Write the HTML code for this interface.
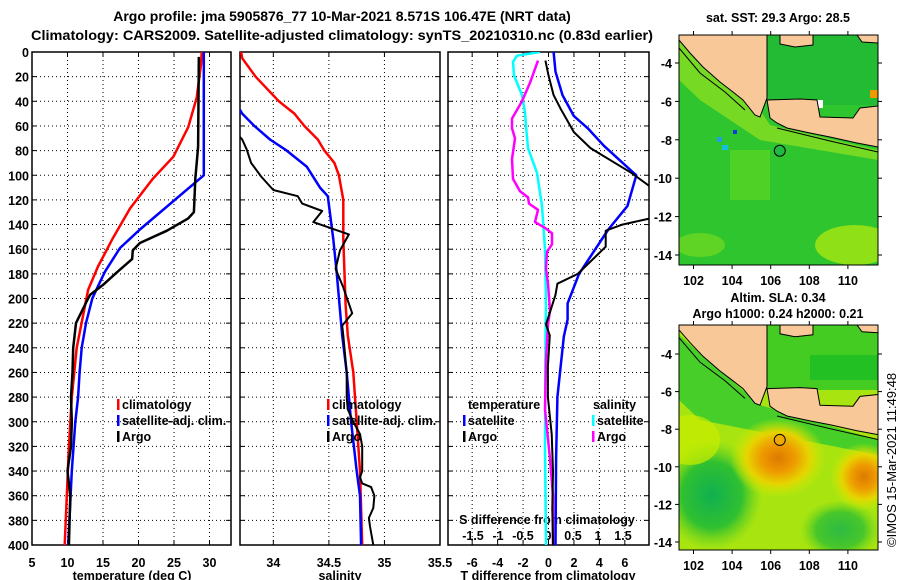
<!DOCTYPE html>
<html><head><meta charset="utf-8">
<style>
html,body{margin:0;padding:0;background:#fff;}
svg{display:block;font-family:"Liberation Sans",sans-serif;}
.b{font-weight:bold;font-size:12.5px;}
</style></head>
<body>
<svg id="c" width="900" height="580" viewBox="0 0 900 580" xmlns="http://www.w3.org/2000/svg">
<defs>
<radialGradient id="o1" cx="0.5" cy="0.5" r="0.5">
<stop offset="0" stop-color="#dd7a00"/><stop offset="0.35" stop-color="#ee9a00"/><stop offset="0.65" stop-color="#e6d400"/><stop offset="1" stop-color="#cdee00" stop-opacity="0"/>
</radialGradient>
<radialGradient id="g1" cx="0.5" cy="0.5" r="0.5">
<stop offset="0" stop-color="#10b050"/><stop offset="0.6" stop-color="#30c030"/><stop offset="1" stop-color="#60d020" stop-opacity="0"/>
</radialGradient>
<clipPath id="cp1"><rect x="32" y="52" width="199" height="493"/></clipPath>
<clipPath id="cp2"><rect x="240" y="52" width="200" height="493"/></clipPath>
<clipPath id="cp3"><rect x="448" y="52" width="201" height="493"/></clipPath>
<clipPath id="mc1"><rect x="679" y="35" width="199" height="230"/></clipPath>
<clipPath id="mc2"><rect x="679" y="325" width="199" height="225"/></clipPath>
</defs>
<text class="b" x="342" y="21" text-anchor="middle" font-size="14" style="font-size:14px">Argo profile: jma 5905876_77 10-Mar-2021 8.571S 106.47E (NRT data)</text>
<text class="b" x="342" y="40" text-anchor="middle" style="font-size:14px" textLength="622" lengthAdjust="spacingAndGlyphs">Climatology: CARS2009. Satellite-adjusted climatology: synTS_20210310.nc (0.83d earlier)</text>
<g id="plots"></g>
<g id="maps"></g>
<text x="896" y="547" transform="rotate(-90 896 547)" font-size="13">©IMOS 15-Mar-2021 11:49:48</text>
</svg>
<script>
// ===== Data =====
const depthTicks = [0,20,40,60,80,100,120,140,160,180,200,220,240,260,280,300,320,340,360,380,400];
const tTicks = [5,10,15,20,25,30];
const sTicks = [34,34.5,35,35.5];
const dtTicks = [-6,-4,-2,0,2,4,6];
const dsTicks = [-1.5,-1,-0.5,0,0.5,1,1.5];

// Temperature profiles: depth / value
const tClimDepth = [0,10,37,61,85,103,127,151,174,193,205,240,280,320,360,400];
const tClimVal   = [28.9,28.8,28.2,27.0,24.9,22.0,18.8,16.4,14.3,12.9,12.5,11.3,10.6,10.2,9.9,9.6];
const tSatDepth = [0,100,144,159,178,190,200,220,240,260,280,300,340,400];
const tSatVal   = [29.2,29.2,20.2,17.4,15.3,14.3,13.5,12.6,12.0,11.7,11.5,11.1,10.6,10.1];
const tArgoDepth = [4,8,77,103,130,135,145,155,161,168,178,189,197,200,220,240,260,280,300,320,340,360,380,400];
const tArgoVal   = [28.5,28.5,28.4,28.0,27.8,27.0,24.0,20.2,19.2,19.1,17.1,15.0,13.2,12.9,11.2,10.8,10.7,10.5,10.6,10.5,10.0,10.4,10.3,10.2];

// Salinity profiles
const sClimDepth = [0,5,20,40,50,60,71,80,90,100,120,152,205,230,260,300,340,400];
const sClimVal   = [33.71,33.72,33.84,34.05,34.19,34.28,34.4,34.46,34.55,34.59,34.63,34.63,34.65,34.67,34.72,34.75,34.78,34.8];
const sSatDepth = [47,50,60,71,80,93,110,117,152,179,230,260,300,340,360,400];
const sSatVal   = [33.7,33.72,33.83,33.97,34.12,34.3,34.42,34.49,34.54,34.57,34.62,34.66,34.7,34.75,34.78,34.79];
const sArgoDepth = [69,71,79,90,101,112,117,123,129,138,148,161,176,191,212,222,230,260,280,290,300,310,320,340,345,350,353,360,370,378,385,400];
const sArgoVal   = [33.7,33.72,33.76,33.8,33.89,34.0,34.22,34.26,34.44,34.36,34.68,34.6,34.56,34.63,34.71,34.62,34.63,34.66,34.66,34.67,34.72,34.78,34.8,34.8,34.78,34.8,34.88,34.91,34.9,34.86,34.87,34.9];

// Differences from climatology
const dtSatDepth = [0,16,35,52,62,76,100,125,144,180,204,217,231,280,330,400];
const dtSatVal   = [0.4,0.55,1.1,2.0,3.1,4.35,6.9,6.2,4.7,2.4,1.5,1.5,1.2,0.7,0.6,0.55];
const dtArgoDepth = [7,19,35,46,65,78,98,113,125,135,140,145,158,180,188,197,210,221,230,255,280,310,340,370,400];
const dtArgoVal   = [-0.24,0,0.4,0.95,2.0,3.3,6.5,8.5,9.5,8.0,5.8,4.5,4.5,2.3,0.7,0.55,0.15,-0.2,0.1,-0.05,-0.05,0.25,0.35,0.3,0.35];
const dsSatDepth = [0,3,8,19,35,49,60,78,98,125,160,205,230,320,400];
const dsSatVal   = [-0.16,-0.62,-0.7,-0.68,-0.52,-0.46,-0.44,-0.4,-0.22,-0.12,-0.06,-0.04,-0.05,-0.06,-0.04];
const dsArgoDepth = [7,25,40,54,62,70,87,103,113,118,123,128,138,143,147,156,162,176,188,210,221,250,290,330,360,400];
const dsArgoVal   = [-0.2,-0.36,-0.52,-0.72,-0.72,-0.66,-0.72,-0.7,-0.56,-0.4,-0.38,-0.2,-0.26,-0.05,0.08,0.08,-0.02,-0.04,0,0.04,0,-0.04,-0.06,0.04,0.1,0.1];

// Map axis ticks
const lonTicks = [102,104,106,108,110];
const latTicks = [-4,-6,-8,-10,-12,-14];
const argoLon = 106.47, argoLat = -8.571;

// ===== Drawing =====
const NS = 'http://www.w3.org/2000/svg';
function mk(tag, attrs, parent){ const e=document.createElementNS(NS,tag); for(const k in attrs) e.setAttribute(k,attrs[k]); parent.appendChild(e); return e; }
const plots = document.getElementById('plots');
const Y0 = 52, Y1 = 545;
const yD = d => Y0 + d*(Y1-Y0)/400;

const panels = [
 {x0:32,x1:231,lo:5,hi:33.03,clip:'cp1',name:'temperature-panel'},
 {x0:240,x1:440,lo:33.7,hi:35.5,clip:'cp2',name:'salinity-panel'},
 {x0:448,x1:649,lo:-7.9,hi:7.9,clip:'cp3',name:'difference-panel'}
];
function sx(p,v){ return p.x0 + (v-p.lo)*(p.x1-p.x0)/(p.hi-p.lo); }
const dsScale = v => 548 + v*50;

panels.forEach((p,i)=>{
  const g = mk('g',{},plots);
  
  
  // grid
  depthTicks.forEach(d=>{
    if(d===0||d===400) return;
    const l = mk('line',{x1:p.x0,x2:p.x1,y1:yD(d),y2:yD(d),stroke:'#000','stroke-width':1,'stroke-dasharray':'1,3'},g);
    
    
    mk('line',{x1:p.x0,x2:p.x0+5,y1:yD(d),y2:yD(d),stroke:'#000'},g);
    mk('line',{x1:p.x1-5,x2:p.x1,y1:yD(d),y2:yD(d),stroke:'#000'},g);
  });
  const xt = i===0?tTicks:(i===1?sTicks:dtTicks);
  xt.forEach(v=>{
    const x = sx(p,v);
    if(x>p.x0+1 && x<p.x1-1){
      const l = mk('line',{x1:x,x2:x,y1:Y0,y2:Y1,stroke:'#000','stroke-dasharray':'1,3'},g);
      
      
      mk('line',{x1:x,x2:x,y1:Y1-5,y2:Y1,stroke:'#000'},g);
      mk('line',{x1:x,x2:x,y1:Y0,y2:Y0+5,stroke:'#000'},g);
    }
    const t = mk('text',{x:x,y:567,'text-anchor':'middle',class:'b'},g);
    t.textContent = v;
    
    
  });
  const fr = mk('rect',{x:p.x0,y:Y0,width:p.x1-p.x0,height:Y1-Y0,fill:'none',stroke:'#000','stroke-width':1.5},g);
  
  
});
// y tick labels
depthTicks.forEach(d=>{
  const t = mk('text',{x:29,y:yD(d)+5,'text-anchor':'end',class:'b'},plots);
  t.textContent = d;
  
  
});
// x-axis titles
[['temperature (deg C)',132,'temperature-axis-title'],['salinity',340,'salinity-axis-title'],['T difference from climatology',548,'t-difference-axis-title']].forEach(a=>{
  const t = mk('text',{x:a[1],y:580,'text-anchor':'middle',class:'b'},plots);
  t.textContent = a[0];
  
  
});
// S difference inner axis
{
  const t = mk('text',{x:547,y:524,'text-anchor':'middle',class:'b'},plots);
  t.textContent = 'S difference from climatology';
  
  
  dsTicks.forEach(v=>{
    const x = dsScale(v);
    const tt = mk('text',{x:x,y:540,'text-anchor':'middle',class:'b'},plots);
    tt.textContent = v;
    
    
  });
}
function line(depths, vals, fx, color, w, clip, name){
  let d='';
  depths.forEach((dep,k)=>{ d += (k?'L':'M') + fx(vals[k]).toFixed(1) + ',' + yD(dep).toFixed(1); });
  const pth = mk('path',{d:d,fill:'none',stroke:color,'stroke-width':w,'clip-path':'url(#'+clip+')','stroke-linejoin':'round'},plots);
  
  
}
const P=panels;
line(tClimDepth,tClimVal,v=>sx(P[0],v),'#f00',2.5,'cp1','temperature-climatology-line');
line(tSatDepth,tSatVal,v=>sx(P[0],v),'#00f',2.5,'cp1','temperature-satellite-line');
line(tArgoDepth,tArgoVal,v=>sx(P[0],v),'#000',2.5,'cp1','temperature-argo-line');
line(sClimDepth,sClimVal,v=>sx(P[1],v),'#f00',2.5,'cp2','salinity-climatology-line');
line(sSatDepth,sSatVal,v=>sx(P[1],v),'#00f',2.5,'cp2','salinity-satellite-line');
line(sArgoDepth,sArgoVal,v=>sx(P[1],v),'#000',2,'cp2','salinity-argo-line');
line(dsSatDepth,dsSatVal,dsScale,'#0ff',2.5,'cp3','s-diff-satellite-line');
line(dsArgoDepth,dsArgoVal,dsScale,'#f0f',2.5,'cp3','s-diff-argo-line');
line(dtSatDepth,dtSatVal,v=>sx(P[2],v),'#00f',2.5,'cp3','t-diff-satellite-line');
line(dtArgoDepth,dtArgoVal,v=>sx(P[2],v),'#000',2,'cp3','t-diff-argo-line');

// legends
function legend(x,y,color,label,name){
  const g = mk('g',{},plots);
  
  
  if(color) mk('rect',{x:x,y:y-10,width:2.5,height:11,fill:color},g);
  const t = mk('text',{x:x+5,y:y,class:'b'},g);
  t.textContent = label;
}
legend(117,409,'#f00','climatology','legend-temp-climatology');
legend(117,425,'#00f','satellite-adj. clim.','legend-temp-satellite');
legend(117,441,'#000','Argo','legend-temp-argo');
legend(327,409,'#f00','climatology','legend-sal-climatology');
legend(327,425,'#00f','satellite-adj. clim.','legend-sal-satellite');
legend(327,441,'#000','Argo','legend-sal-argo');
legend(463,409,null,'temperature','legend-t-header');
legend(463,425,'#00f','satellite','legend-t-satellite');
legend(463,441,'#000','Argo','legend-t-argo');
legend(588,409,null,'salinity','legend-s-header');
legend(592,425,'#0ff','satellite','legend-s-satellite');
legend(592,441,'#f0f','Argo','legend-s-argo');

// ===== Maps =====
const maps = document.getElementById('maps');
const M = [
 {top:35,bot:265,lat4:63,sc:19.2,clip:'mc1',name:'sst-map',title:['sat. SST: 29.3 Argo: 28.5'],ty:[17]},
 {top:325,bot:550,lat4:354,sc:18.8,clip:'mc2',name:'sla-map',title:['Altim. SLA: 0.34','Argo h1000: 0.24 h2000: 0.21'],ty:[297,313]}
];
const mx = lon => 693.5 + (lon-102)*19.3;
// land polygons in top-map pixel frame (y relative to top=35)
const sumatra=[[679,35],[767,35],[767,98],[760,117],[755,115],[743,100],[733,92],[720,82],[703,67],[690,53],[679,40]];
const java=[[767,100],[800,99],[817,100],[820,117],[853,118],[860,108],[878,106],[878,147],[857,143],[830,137],[810,133],[787,128],[777,123],[770,118]];
const borneo1=[[780,35],[813,35],[813,45],[795,47],[780,44]];
const borneo2=[[857,35],[878,35],[878,43],[862,42]];
M.forEach((m,mi)=>{
  const g = mk('g',{},maps);
  
  
  const H = m.bot-m.top;
  const Y = y => m.top + (y-35)*H/230;
  const my = lat => m.lat4 + (-4-lat)*m.sc;
  const c = mk('g',{'clip-path':'url(#'+m.clip+')'},g);
  if(mi===0){
    mk('rect',{x:679,y:m.top,width:199,height:H,fill:'#2ec52e'},c);
    mk('rect',{x:767,y:m.top,width:111,height:70,fill:'#22bb33'},c);
    mk('polygon',{points:'679,40 740,80 770,125 878,150 878,160 760,140 700,100 679,80',fill:'#88dd22',opacity:0.8},c);
    mk('rect',{x:730,y:150,width:40,height:50,fill:'#66d822',opacity:0.6},c);
    mk('ellipse',{cx:855,cy:245,rx:40,ry:20,fill:'#a8e610',opacity:0.8},c);
    mk('ellipse',{cx:700,cy:245,rx:25,ry:12,fill:'#80dd20',opacity:0.6},c);
    mk('rect',{x:717,y:137,width:5,height:5,fill:'#20a0e0'},c);
    mk('rect',{x:722,y:145,width:6,height:5,fill:'#10c0e0'},c);
    mk('rect',{x:733,y:130,width:4,height:4,fill:'#1040d0'},c);
    mk('rect',{x:815,y:100,width:8,height:8,fill:'#fff'},c);
    mk('rect',{x:870,y:90,width:8,height:8,fill:'#ee9900'},c);
  } else {
    mk('rect',{x:679,y:m.top,width:199,height:H,fill:'#a8e410'},c);
    mk('rect',{x:767,y:m.top,width:111,height:65,fill:'#44cc22'},c);
    mk('rect',{x:810,y:m.top+30,width:68,height:25,fill:'#22c022'},c);
    mk('polygon',{points:'679,335 760,405 878,440 878,455 700,420 679,400',fill:'#30c830',opacity:0.8},c);
    mk('ellipse',{cx:712,cy:495,rx:50,ry:55,fill:'url(#g1)'},c);
    mk('ellipse',{cx:840,cy:530,rx:40,ry:30,fill:'url(#g1)',opacity:0.8},c);
    mk('ellipse',{cx:690,cy:440,rx:30,ry:25,fill:'#c8ec00',opacity:0.7},c);
    mk('ellipse',{cx:778,cy:458,rx:48,ry:40,fill:'url(#o1)'},c);
    mk('ellipse',{cx:864,cy:477,rx:34,ry:34,fill:'url(#o1)'},c);
  }
  const land = {fill:'#f9c899',stroke:'#000','stroke-width':1};
  [sumatra,java,borneo1,borneo2].forEach((poly,pi)=>{
    const pts = poly.map(p=>p[0]+','+Y(p[1]).toFixed(1)).join(' ');
    const pg = mk('polygon',Object.assign({points:pts},land),c);
    
    
  });
  // shelf contour
  mk('polyline',{points:'679,'+Y(48)+' 700,'+Y(73)+' 725,'+Y(92)+' 745,'+Y(110),fill:'none',stroke:'#000','stroke-width':1},c);
  mk('polyline',{points:'777,'+Y(128)+' 830,'+Y(141)+' 878,'+Y(152),fill:'none',stroke:'#000','stroke-width':1},c);
  const circ = mk('circle',{cx:mx(argoLon),cy:my(argoLat),r:5.5,fill:mi?'#eeaa00':'#22b844',stroke:'#000','stroke-width':1},c);
  
  
  mk('rect',{x:679,y:m.top,width:199,height:H,fill:'none',stroke:'#000','stroke-width':1},g);
  lonTicks.forEach(lon=>{
    const x=mx(lon);
    mk('line',{x1:x,x2:x,y1:m.top-4,y2:m.top,stroke:'#000'},g);
    mk('line',{x1:x,x2:x,y1:m.bot,y2:m.bot+4,stroke:'#000'},g);
    const t = mk('text',{x:x,y:m.bot+20,'text-anchor':'middle',class:'b'},g);
    t.textContent = lon;
    
    
  });
  latTicks.forEach(lat=>{
    const y=my(lat);
    mk('line',{x1:675,x2:679,y1:y,y2:y,stroke:'#000'},g);
    mk('line',{x1:878,x2:882,y1:y,y2:y,stroke:'#000'},g);
    const t = mk('text',{x:672,y:y+5,'text-anchor':'end',class:'b'},g);
    t.textContent = lat;
    
    
  });
  m.title.forEach((s,k)=>{
    const t = mk('text',{x:778,y:m.ty[k]+5,'text-anchor':'middle',class:'b'},g);
    t.textContent = s;
    
    
  });
});
</script>
</body></html>
